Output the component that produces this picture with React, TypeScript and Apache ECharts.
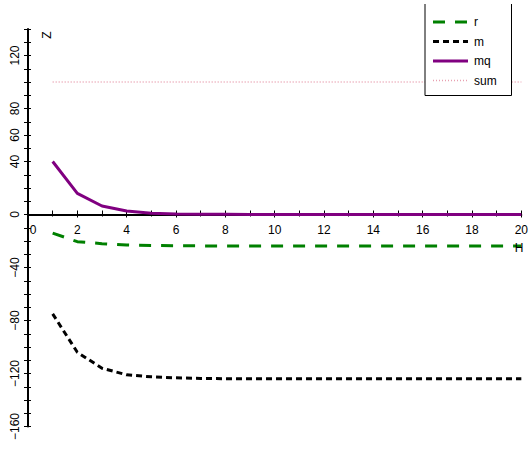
import React, { useEffect, useRef } from "react";
import * as echarts from "echarts";

const xValues = [1, 2, 3, 4, 5, 6, 7, 8, 9, 10, 11, 12, 13, 14, 15, 16, 17, 18, 19, 20];
const rValues = [-14, -20.5, -22, -23, -23.4, -23.6, -23.7, -23.8, -23.8, -23.8, -23.8, -23.8, -23.8, -23.8, -23.8, -23.8, -23.8, -23.8, -23.8, -23.8];
const mValues = [-75, -104, -116, -121, -122.5, -123.3, -123.7, -123.9, -124, -124, -124, -124, -124, -124, -124, -124, -124, -124, -124, -124];
const mqValues = [40, 16, 6.4, 2.6, 1, 0.4, 0.2, 0.1, 0, 0, 0, 0, 0, 0, 0, 0, 0, 0, 0, 0];
const sumValues = [100, 100, 100, 100, 100, 100, 100, 100, 100, 100, 100, 100, 100, 100, 100, 100, 100, 100, 100, 100];
const hiddenYLabels = [20, 100, 140, -20, -60, -100, -140];
const legendNames = ["r", "m", "mq", "sum"];

const FONT = "'Liberation Sans', Arial, sans-serif";
const COLORS: Record<string, string> = { r: "#008000", m: "#000000", mq: "#800080", sum: "#e8a0b0" };
const DASHES: Record<string, number[] | null> = { r: [12, 10], m: [6, 4], mq: null, sum: [1, 2] };
const WIDTHS: Record<string, number> = { r: 3, m: 3, mq: 3, sum: 1.5 };

const Y_MIN = -160;
const Y_MAX = 140;
const GRID_TOP = 29;
const GRID_BOTTOM = 22.5;
const H = 449;

const pair = (ys: number[]) => xValues.map((x, i) => [x, ys[i]]);

export default function App() {
  const ref = useRef<HTMLDivElement>(null);
  useEffect(() => {
    if (!ref.current) return;
    const chart = echarts.init(ref.current, undefined, { renderer: "svg" });
    const gridH = H - GRID_TOP - GRID_BOTTOM;
    const zeroOffset = -(gridH * (0 - Y_MIN)) / (Y_MAX - Y_MIN);

    const legendGraphics: any[] = [];
    legendNames.forEach((name, i) => {
      const y = 22 + i * 19.5;
      legendGraphics.push({
        type: "line",
        z: 17,
        shape: { x1: 433, y1: y, x2: 468, y2: y },
        style: { stroke: COLORS[name], lineWidth: WIDTHS[name], lineDash: DASHES[name] || undefined },
      });
      legendGraphics.push({
        type: "text",
        z: 17,
        x: 474,
        y: y,
        style: { text: name, fill: "#000", fontSize: 12, fontFamily: FONT, align: "left", verticalAlign: "middle" },
      });
    });

    const tickStyle = { color: "#000", width: 1 };
    const baseX = {
      type: "value",
      min: 0,
      max: 20,
      interval: 2,
      position: "bottom",
      offset: zeroOffset,
      splitLine: { show: false },
    };
    const baseY = {
      type: "value",
      min: Y_MIN,
      max: Y_MAX,
      interval: 20,
      position: "left",
      splitLine: { show: false },
    };

    chart.setOption({
      animation: false,
      backgroundColor: "#ffffff",
      grid: { left: 28, right: 8, top: GRID_TOP, bottom: GRID_BOTTOM, containLabel: false },
      xAxis: [
        {
          ...baseX,
          axisLine: { show: true, onZero: false, lineStyle: { color: "#000", width: 2 } },
          axisTick: { show: true, inside: true, length: 4, lineStyle: tickStyle },
          minorTick: { show: true, splitNumber: 2, length: 4, lineStyle: tickStyle },
          axisLabel: {
            color: "#000",
            fontSize: 12,
            fontFamily: FONT,
            margin: 9,
            formatter: (v: number) => (v === 0 ? "{z|0}" : String(v)),
            rich: { z: { padding: [0, 0, 0, 10], fontSize: 12, fontFamily: FONT, color: "#000" } },
          },
        },
        {
          ...baseX,
          axisLine: { show: false, onZero: false },
          axisTick: { show: true, inside: false, length: 3, lineStyle: tickStyle },
          minorTick: { show: true, splitNumber: 2, length: 2, lineStyle: tickStyle },
          axisLabel: { show: false },
        },
      ],
      yAxis: [
        {
          ...baseY,
          axisLine: { show: true, onZero: false, lineStyle: { color: "#000", width: 2 } },
          axisTick: { show: true, length: 4, lineStyle: tickStyle },
          minorTick: { show: true, splitNumber: 2, length: 4, lineStyle: tickStyle },
          axisLabel: {
            color: "#000",
            fontSize: 12,
            fontFamily: FONT,
            rotate: 90,
            margin: 7,
            formatter: (v: number) =>
              hiddenYLabels.includes(v) ? "" : String(v).replace("-", "\u2212"),
          },
        },
        {
          ...baseY,
          axisLine: { show: false, onZero: false },
          axisTick: { show: true, inside: true, length: 3, lineStyle: tickStyle },
          minorTick: { show: true, splitNumber: 2, length: 3, lineStyle: tickStyle },
          axisLabel: { show: false },
        },
      ],
      graphic: [
        {
          type: "rect",
          z: 15,
          shape: { x: 425, y: 0, width: 87, height: 95 },
          style: { fill: "#fff", stroke: null },
        },
        {
          type: "polyline",
          z: 16,
          shape: { points: [[425, 4], [425, 95.5], [511.5, 95.5], [511.5, 4]] },
          style: { fill: null, stroke: "#000", lineWidth: 1 },
        },
        ...legendGraphics,
        {
          type: "text",
          x: 47,
          y: 35,
          rotation: Math.PI / 2,
          style: { text: "Z", fill: "#000", fontSize: 12, fontFamily: FONT, align: "center", verticalAlign: "middle" },
        },
        {
          type: "text",
          x: 519,
          y: 248,
          z: 10,
          style: { text: "H", fill: "#000", fontSize: 12, fontFamily: FONT, align: "center", verticalAlign: "middle" },
        },
      ],
      series: [
        {
          name: "r",
          type: "line",
          data: pair(rValues),
          symbol: "none",
          z: 3,
          lineStyle: { color: COLORS.r, width: WIDTHS.r, type: DASHES.r },
          itemStyle: { color: COLORS.r },
        },
        {
          name: "m",
          type: "line",
          data: pair(mValues),
          symbol: "none",
          z: 3,
          lineStyle: { color: COLORS.m, width: WIDTHS.m, type: DASHES.m },
          itemStyle: { color: COLORS.m },
        },
        {
          name: "mq",
          type: "line",
          data: pair(mqValues),
          symbol: "none",
          z: 4,
          lineStyle: { color: COLORS.mq, width: WIDTHS.mq, type: "solid" },
          itemStyle: { color: COLORS.mq },
        },
        {
          name: "sum",
          type: "line",
          data: pair(sumValues),
          symbol: "none",
          z: 3,
          lineStyle: { color: COLORS.sum, width: WIDTHS.sum, type: DASHES.sum },
          itemStyle: { color: COLORS.sum },
        },
      ],
    });
    return () => chart.dispose();
  }, []);
  return (
    <div
      ref={ref}
      style={{ position: "fixed", left: 0, top: 0, width: 531, height: 449, background: "#fff" }}
    />
  );
}
